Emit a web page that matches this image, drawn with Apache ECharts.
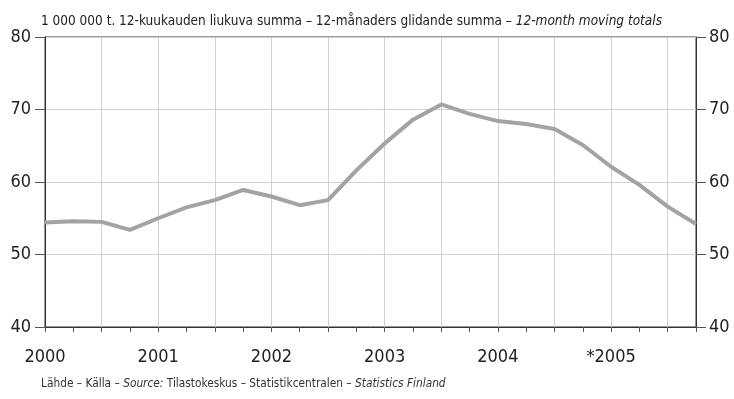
<!DOCTYPE html>
<html>
<head>
<meta charset="utf-8">
<script src="https://cdn.jsdelivr.net/npm/echarts@6/dist/echarts.min.js"></script>
<style>
  html, body { margin: 0; padding: 0; background: #fff; }
  #chart { width: 734px; height: 399px; }
</style>
</head>
<body>
<div id="chart"></div>
<script>
// Quarterly observations, 2000 Q1 – 2005 Q4
const quarters = [
  '2000Q1','2000Q2','2000Q3','2000Q4',
  '2001Q1','2001Q2','2001Q3','2001Q4',
  '2002Q1','2002Q2','2002Q3','2002Q4',
  '2003Q1','2003Q2','2003Q3','2003Q4',
  '2004Q1','2004Q2','2004Q3','2004Q4',
  '2005Q1','2005Q2','2005Q3','2005Q4'
];
// 12-month moving totals, million tonnes
const movingTotals = [
  54.4, 54.6, 54.5, 53.4,
  55.0, 56.5, 57.5, 58.9,
  58.0, 56.8, 57.5, 61.6,
  65.3, 68.6, 70.7, 69.4,
  68.4, 68.0, 67.3, 65.1,
  62.1, 59.6, 56.6, 54.2
];
const yearLabels = ['2000', '2001', '2002', '2003', '2004', '*2005'];
const yTicks = [40, 50, 60, 70, 80];

const FONT = "'Liberation Sans Narrow', 'DejaVu Sans Condensed', 'Roboto Condensed', sans-serif";

const chart = echarts.init(document.getElementById('chart'), null, { renderer: 'canvas' });

const txt = (size, italic, color) => ({
  fontFamily: FONT, fontSize: size, color: color,
  fontWeight: 'normal', fontStyle: italic ? 'italic' : 'normal'
});

const yAxisBase = {
  type: 'value',
  min: yTicks[0],
  max: yTicks[yTicks.length - 1],
  interval: 10,
  axisLine: { show: true, lineStyle: { color: '#333', width: 1 } },
  axisTick: { show: true, length: 10, lineStyle: { color: '#555', width: 1 } },
  splitLine: { show: true, lineStyle: { color: '#d2d2d2', width: 1 } },
  axisLabel: { fontFamily: FONT, fontSize: 18, color: '#222', margin: 14 }
};

chart.setOption({
  animation: false,
  backgroundColor: '#fff',
  title: [
    {
      left: 36, top: 9,
      text: '{n|1 000 000 t. 12-kuukauden liukuva summa – 12-månaders glidande summa – }{i|12-month moving totals}',
      textStyle: {
        fontWeight: 'normal',
        rich: { n: txt(13.5, false, '#222'), i: txt(13.5, true, '#222') }
      }
    },
    {
      left: 36, top: 373,
      text: '{n|Lähde – Källa – }{i|Source:}{n| Tilastokeskus – Statistikcentralen – }{i|Statistics Finland}',
      textStyle: {
        fontWeight: 'normal',
        rich: { n: txt(11.8, false, '#333'), i: txt(11.8, true, '#333') }
      }
    }
  ],
  grid: {
    left: 45, right: 38, top: 37, bottom: 72,
    containLabel: false,
    outerBoundsMode: 'none',
    show: true, borderColor: '#333', borderWidth: 1
  },
  xAxis: {
    type: 'category',
    data: quarters,
    boundaryGap: false,
    axisLine: { show: true, lineStyle: { color: '#333', width: 1 } },
    axisTick: { show: true, interval: 0, length: 5, lineStyle: { color: '#555' } },
    splitLine: {
      show: true,
      interval: (idx) => idx % 2 === 0,
      lineStyle: { color: '#d2d2d2', width: 1 }
    },
    axisLabel: {
      interval: 0,
      margin: 21,
      fontFamily: FONT, fontSize: 18, color: '#222',
      formatter: (val, idx) => (idx % 4 === 0 ? yearLabels[idx / 4] : '')
    }
  },
  yAxis: [
    Object.assign({}, yAxisBase, { position: 'left' }),
    Object.assign({}, yAxisBase, {
      position: 'right',
      splitLine: { show: false },
      axisLabel: Object.assign({}, yAxisBase.axisLabel, { margin: 13 })
    })
  ],
  series: [
    {
      type: 'line',
      data: movingTotals,
      yAxisIndex: 0,
      symbol: 'none',
      lineStyle: { color: '#a3a3a3', width: 4 },
      z: 3
    }
  ]
});
</script>
</body>
</html>
